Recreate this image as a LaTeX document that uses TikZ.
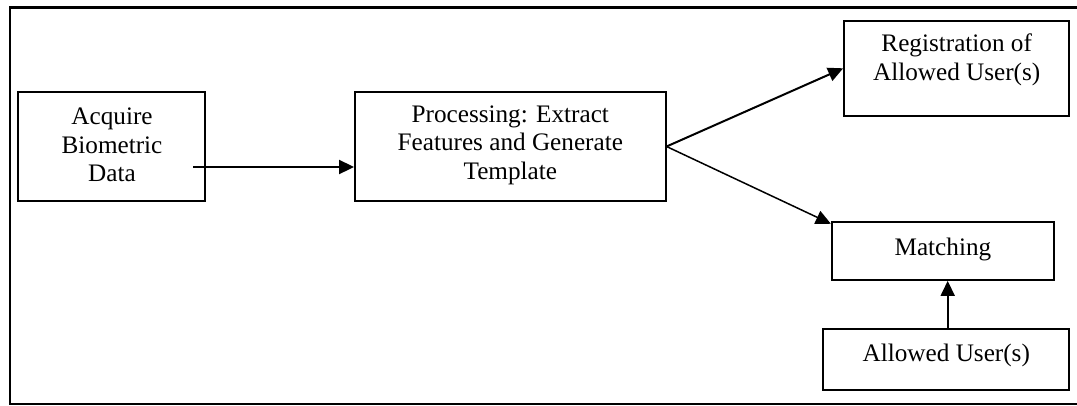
\documentclass[tikz,border=0pt]{standalone}
\usepackage{fontspec}
\setmainfont{Liberation Serif}
\usetikzlibrary{arrows.meta}
\begin{document}
\begin{tikzpicture}[x=1pt,y=-1pt,
  box/.style={draw, line width=1.8pt, inner sep=0pt},
  txt/.style={inner sep=0pt, align=center, font=\fontsize{25.2}{28.5}\selectfont},
  flow/.style={-{Triangle[length=15pt,width=14pt]}, line width=2pt},
  thin flow/.style={flow, line width=1.5pt}]
  \useasboundingbox (0,0) rectangle (1077,405);
  \clip (0,0) rectangle (1077,405);
  % outer frame (open to the right)
  \draw[line width=2.2pt] (1090,7.5) -- (10,7.5) -- (10,404) -- (1090,404);

  % boxes
  \node[box, minimum width=186.7pt, minimum height=109.3pt] (acq) at (111.7,146.3) {};
  \node[txt] (acq-t) at (112,145) {Acquire\\Biometric\\Data};

  \node[box, minimum width=310.7pt, minimum height=109pt] (proc) at (510.3,146.5) {};
  \node[txt] (proc-t) at (510.3,145) {Processing: Extract\\Features and Generate\\Template};

  \node[box, minimum width=225.3pt, minimum height=95.3pt] (reg) at (956.7,68.3) {};
  \node[txt] (reg-t) at (956.7,60) {Registration of\\Allowed User(s)};

  \node[box, minimum width=222.3pt, minimum height=58.3pt] (match) at (942.9,250.8) {};
  \node[txt, anchor=base] (match-t) at (942.9,255) {Matching};

  \node[box, minimum width=246pt, minimum height=60.7pt] (allow) at (946.3,359.7) {};
  \node[txt, anchor=base] (allow-t) at (946.3,361) {Allowed User(s)};

  % connectors
  \coordinate (acq-out) at (193,167);
  \coordinate (match-in) at ([yshift=-3pt]match.north west);
  \draw[flow] (acq-out) -- (acq-out -| proc.west);
  \draw[flow] (proc.east) -- (reg.west);
  \draw[thin flow] (proc.east) -- (match-in);
  \draw[flow, line width=1.7pt] ([xshift=1.4pt]allow.north) -- ([xshift=1.4pt]allow.north |- match.south);
\end{tikzpicture}
\end{document}
